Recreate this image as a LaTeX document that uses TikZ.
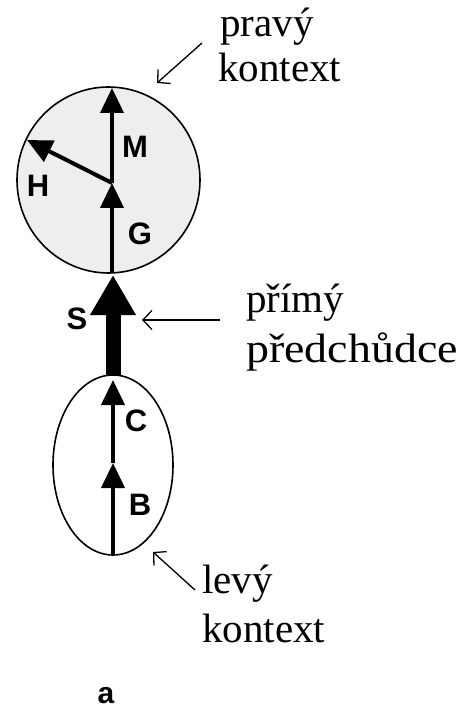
\documentclass[tikz,border=0pt]{standalone}
\usepackage{fontspec}
\setmainfont{Liberation Serif}
\newfontfamily\lblfont{Liberation Sans}
\usetikzlibrary{arrows.meta,shapes.geometric}
\definecolor{ctxgray}{RGB}{238,238,238}
\begin{document}
\begin{tikzpicture}[x=1pt,y=-1pt,
  ctx/.style={draw, line width=1.6pt, inner sep=0pt, ellipse},
  seg/.style={line width=4pt, -{Triangle[length=25pt,width=23pt]}},
  thickseg/.style={line width=15pt, -{Triangle[length=40pt,width=43pt]}},
  pointer/.style={line width=1.3pt, -{Straight Barb[length=9pt,width=19pt]}},
  lbl/.style={font=\lblfont\bfseries\fontsize{31}{31}\selectfont, inner sep=0pt},
  txt/.style={font=\fontsize{41}{41}\selectfont, anchor=base west, inner sep=0pt}]
\useasboundingbox (0,0) rectangle (457,711);
% contexts
\node[ctx, fill=ctxgray, minimum width=183pt, minimum height=186pt] (right) at (108.5,180) {};
\node[ctx, minimum width=120pt, minimum height=180pt] (left) at (113,465) {};
% points
\coordinate (g0) at (112,273);
\coordinate (g1) at (112,183);
\coordinate (m1) at (112,88);
\coordinate (h1) at (27,140);
\coordinate (b0) at (113,555);
\coordinate (b1) at (113,463);
\coordinate (c1) at (113,380);
\coordinate (s0) at (113,375);
\coordinate (s1) at (113,275);
% edges
\draw[seg] (g0) -- (g1);
\draw[seg] (g1) -- (m1);
\draw[seg] (g1) -- (h1);
\draw[seg] (b0) -- (b1);
\draw[seg] (b1) -- (c1);
\draw[thickseg] (s0) -- (s1);
% edge labels
\node[lbl] (lM) at (135,147) {M};
\node[lbl] (lH) at (38,186) {H};
\node[lbl] (lG) at (140,234) {G};
\node[lbl] (lS) at (77,319) {S};
\node[lbl] (lC) at (136,421) {C};
\node[lbl] (lB) at (140,505) {B};
% annotations
\node[txt] (t1) at (220,37) {pravý};
\node[txt] (t2) at (218,82) {kontext};
\node[txt] (t3) at (246,312) {přímý};
\node[txt] (t4) at (246,362) {\scalebox{1.12}[1]{předchůdce}};
\node[txt] (t5) at (202,593) {levý};
\node[txt] (t6) at (202,642) {kontext};
\coordinate (p1a) at (202,43);
\coordinate (p1b) at (157,83);
\coordinate (p2a) at (220,320);
\coordinate (p2b) at (142,320);
\coordinate (p3a) at (195,590);
\coordinate (p3b) at (153,552);
\draw[pointer] (p1a) -- (p1b);
\draw[pointer] (p2a) -- (p2b);
\draw[pointer] (p3a) -- (p3b);
\node[font=\lblfont\bfseries\fontsize{30}{30}\selectfont, anchor=base, inner sep=0pt] (ta) at (106,703) {a};
\end{tikzpicture}
\end{document}
